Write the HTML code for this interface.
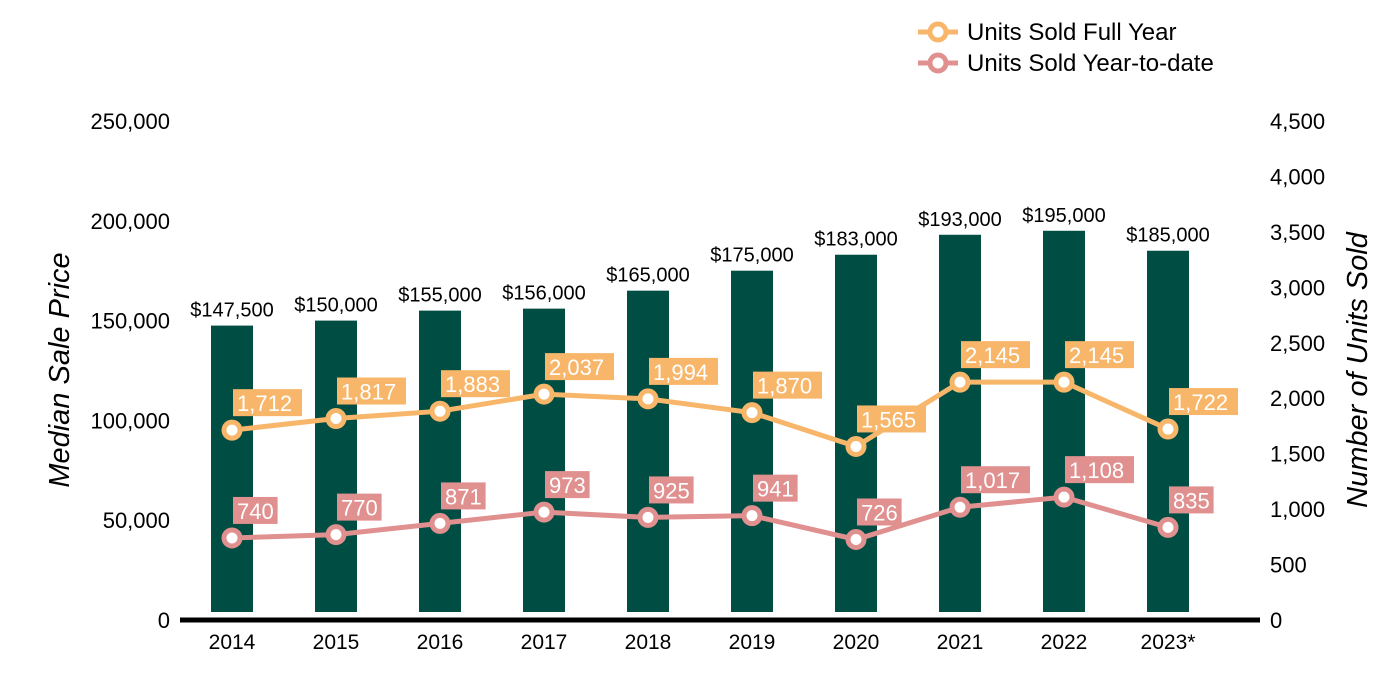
<!DOCTYPE html>
<html><head><meta charset="utf-8"><style>
body{margin:0;background:#fff;}
svg{display:block;font-family:"Liberation Sans",Arial,sans-serif;}
</style></head><body>
<svg id="chart" width="1400" height="700" viewBox="0 0 1400 700" xmlns="http://www.w3.org/2000/svg"></svg>
<script>
const years=["2014","2015","2016","2017","2018","2019","2020","2021","2022","2023*"];
const prices=[147500,150000,155000,156000,165000,175000,183000,193000,195000,185000];
const fullYear=[1712,1817,1883,2037,1994,1870,1565,2145,2145,1722];
const ytd=[740,770,871,973,925,941,726,1017,1108,835];
const leftTicks=[0,50000,100000,150000,200000,250000];
const rightTicks=[0,500,1000,1500,2000,2500,3000,3500,4000,4500];

const NS="http://www.w3.org/2000/svg";
const svg=document.getElementById('chart');
const y0=620,yTop=121;
const yL=v=>y0-v/250000*(y0-yTop);
const yR=v=>y0-v/4500*(y0-yTop);
const xC=i=>232+i*104;
const fmt=v=>v.toLocaleString('en-US');
function mk(tag,attrs,text){const e=document.createElementNS(NS,tag);for(const k in attrs)e.setAttribute(k,attrs[k]);if(text!==undefined)e.textContent=text;svg.appendChild(e);return e;}

leftTicks.forEach(t=>{const e=mk('text',{x:170,y:yL(t)+8,'text-anchor':'end','font-size':22,fill:'#000'},fmt(t));

});
rightTicks.forEach(t=>{const e=mk('text',{x:1270,y:yR(t)+8,'font-size':22,fill:'#000'},fmt(t));

});

prices.forEach((p,i)=>{
 const b=mk('rect',{x:xC(i)-21,y:yL(p),width:42,height:612-yL(p),fill:'#004d43'});
 
 
 const t=mk('text',{x:xC(i),y:yL(p)-9,'text-anchor':'middle','font-size':20,fill:'#000'},'$'+fmt(p));
 
 
 const yl=mk('text',{x:xC(i),y:649,'text-anchor':'middle','font-size':21,fill:'#000'},years[i]);
 
 
});
const ax=mk('line',{x1:180,x2:1260,y1:620,y2:620,stroke:'#000','stroke-width':5});



function series(vals,color,name){
 const pl=mk('polyline',{points:vals.map((v,i)=>xC(i)+','+yR(v)).join(' '),fill:'none',stroke:color,'stroke-width':5});
 
 
 vals.forEach((v,i)=>{
  const c=mk('circle',{cx:xC(i),cy:yR(v),r:8,fill:'#fff',stroke:color,'stroke-width':5});
  
  
  const s=fmt(v);const w=s.length*12.2+8;
  const r=mk('rect',{x:xC(i)+1,y:yR(v)-41,width:w,height:27,fill:color});
  
  
  const t=mk('text',{x:xC(i)+5,y:yR(v)-19,'font-size':22,fill:'#fff'},s);
  
  
 });
}
series(fullYear,'#f8b66a','units-full-year');
series(ytd,'#e0908f','units-ytd');

const t1=mk('text',{x:0,y:0,'font-size':29,'font-style':'italic',fill:'#000','text-anchor':'middle',transform:'translate(69,370) rotate(-90)'},'Median Sale Price');


const t2=mk('text',{x:0,y:0,'font-size':29,'font-style':'italic',fill:'#000','text-anchor':'middle',transform:'translate(1367,370) rotate(-90)'},'Number of Units Sold');



[['Units Sold Full Year','#f8b66a',32],['Units Sold Year-to-date','#e0908f',63]].forEach(([lab,col,y])=>{
 const l=mk('line',{x1:918,x2:958,y1:y,y2:y,stroke:col,'stroke-width':5});
 
 
 const c=mk('circle',{cx:938,cy:y,r:8,fill:'#fff',stroke:col,'stroke-width':5});
 
 
 const t=mk('text',{x:967,y:y+8,'font-size':24,fill:'#000'},lab);
 
 
});
</script>
</body></html>
